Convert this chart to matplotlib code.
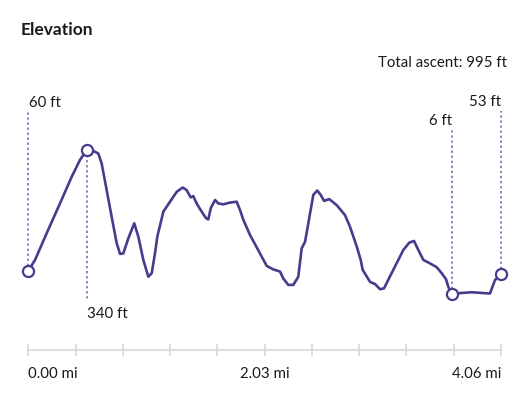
import matplotlib
matplotlib.use('Agg')
from matplotlib import pyplot as plt
from matplotlib.ticker import FixedLocator

plt.rcParams['font.family'] = ['Lato', 'DejaVu Sans']

# distance along route (mi) and elevation (ft)
distance = [0.000, 0.058, 0.158, 0.272, 0.373, 0.444, 0.502, 0.558, 0.601, 0.630,
            0.673, 0.716, 0.759, 0.788, 0.816, 0.859, 0.910, 0.945, 0.988, 1.031,
            1.060, 1.088, 1.108, 1.160, 1.217, 1.275, 1.326, 1.360, 1.374, 1.395,
            1.417, 1.446, 1.489, 1.526, 1.546, 1.567, 1.604, 1.632, 1.675, 1.732,
            1.790, 1.818, 1.847, 1.904, 1.990, 2.048, 2.104, 2.162, 2.190, 2.233,
            2.276, 2.319, 2.348, 2.377, 2.420, 2.448, 2.482, 2.511, 2.540, 2.585,
            2.649, 2.720, 2.763, 2.821, 2.855, 2.872, 2.935, 2.978, 3.021, 3.055,
            3.135, 3.221, 3.272, 3.313, 3.350, 3.393, 3.450, 3.508, 3.551, 3.588,
            3.607, 3.636, 3.708, 3.808, 3.965, 4.008, 4.060]
elevation = [60, 85, 147, 216, 278, 317, 340, 338, 332, 309,
             247, 185, 124, 99, 100, 135, 170, 139, 85, 46,
             54, 100, 139, 197, 220, 243, 253, 247, 240, 230,
             233, 216, 197, 182, 179, 205, 224, 216, 214, 218,
             220, 201, 178, 143, 100, 71, 63, 58, 42, 27,
             27, 46, 112, 127, 193, 236, 246, 236, 222, 226,
             212, 189, 162, 116, 85, 62, 34, 29, 17, 19,
             62, 108, 125, 129, 108, 85, 77, 68, 54, 40,
             23, 6, 8, 10, 7, 38, 53]

total_ascent = 995
tick_positions = [i * 0.406 for i in range(11)]
tick_labels = ['0.00 mi', '2.03 mi', '4.06 mi']

line_color = '#463c8c'
dot_color = '#6a5fb3'
axis_color = '#d8d8d8'
text_color = '#1a1a1a'

fig = plt.figure(figsize=(5.22, 3.97), dpi=100)
ax = fig.add_axes([28.3 / 522, 47 / 397, 472.7 / 522, 255 / 397])
ax.set_xlim(0, 4.06)
ax.set_ylim(-124, 467.6)

ax.plot(distance, elevation, color=line_color, lw=1.9, solid_capstyle='round',
        solid_joinstyle='round', zorder=3)

# highlighted points: start, highest, lowest, end
i_max = elevation.index(max(elevation))
i_min = elevation.index(min(elevation))
points = [
    (0, 430, 449, 'left'),
    (i_max, -6, -40, 'left'),
    (i_min, 386, 407, 'right'),
    (len(elevation) - 1, 430, 451, 'right'),
]
for idx, y_line, y_text, ha in points:
    x = distance[idx]
    y = elevation[idx]
    ax.plot([x, x], [y, y_line], color=dot_color, lw=1.1, ls=(0, (1.5, 1.8)),
            zorder=2, clip_on=False)
    ax.plot(x, y, 'o', ms=8, mfc='white', mec=line_color, mew=1.6, zorder=4,
            clip_on=False)
    tx = x + 0.005 if ha == 'left' else x
    ax.text(tx, y_text, f'{y} ft', ha=ha, va='center', fontsize=10.8, color=text_color)

for side in ['top', 'right', 'left']:
    ax.spines[side].set_visible(False)
ax.spines['bottom'].set_color(axis_color)
ax.spines['bottom'].set_linewidth(1.2)
ax.set_yticks([])
ax.xaxis.set_major_locator(FixedLocator([tick_positions[0], tick_positions[5], tick_positions[10]]))
ax.xaxis.set_minor_locator(FixedLocator(tick_positions))
ax.set_xticklabels(tick_labels)
ax.tick_params(axis='x', which='both', direction='inout', length=8, width=1.2,
               color=axis_color, labelsize=10.8, labelcolor=text_color, pad=8.5)
labels = ax.get_xticklabels()
labels[0].set_ha('left')
labels[-1].set_ha('right')

fig.text(21 / 522, 1 - 30 / 397, 'Elevation', fontsize=12.5, fontweight='bold',
         color=text_color, va='center', ha='left')
fig.text(507 / 522, 1 - 63 / 397, f'Total ascent: {total_ascent} ft', fontsize=10.8,
         color=text_color, va='center', ha='right')

fig.savefig('out.png', dpi=100)
